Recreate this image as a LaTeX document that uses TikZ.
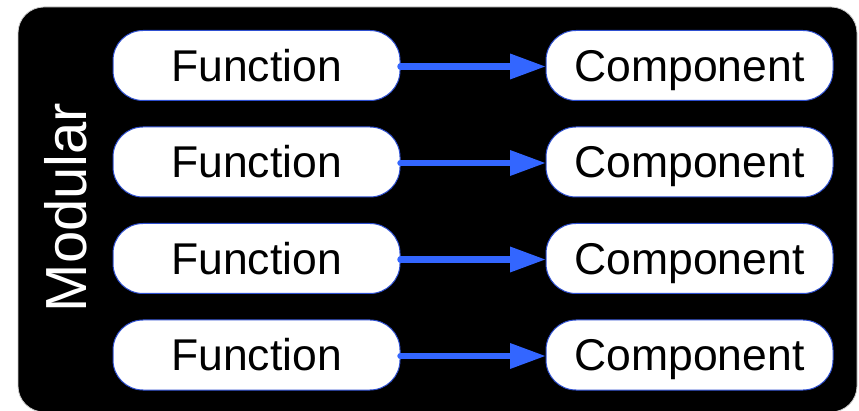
\documentclass[tikz,border=0pt]{standalone}
\usepackage{fontspec}
\setmainfont{Liberation Sans}
\usetikzlibrary{arrows.meta}
\definecolor{arrowblue}{HTML}{3366FF}
\definecolor{edgeblue}{HTML}{2E4FD0}
\tikzset{
  fbox/.style={draw=edgeblue, line width=1pt, fill=white, rounded corners=30pt,
    minimum width=287pt, minimum height=70pt, inner sep=0pt,
    text height=31.9pt, text depth=0pt,
    font=\fontsize{44.5}{50}\selectfont},
  flow/.style={draw=arrowblue, line width=6.5pt, line cap=round,
    -{Triangle[length=36pt,width=24pt]}, shorten >=-0.5pt}
}
\begin{document}
\begin{tikzpicture}[x=1pt,y=-1pt]
\useasboundingbox (0,0) rectangle (859,411);
\fill[black, draw=gray!40, line width=0.8pt, rounded corners=26pt] (18,7) rectangle (857,412);
\node[white, rotate=90, inner sep=0pt, text height=41.5pt, text depth=0pt,
  font=\fontsize{58}{60}\selectfont] (mod) at (65.5,207.5) {Modular};
\foreach \i/\y in {1/65.5,2/162,3/258.5,4/355}{
  \node[fbox] (f\i) at (256.5,\y) {Function};
  \node[fbox] (c\i) at (689.5,\y) {Component};
  \draw[flow] (f\i.east) ++(0,1) -- (c\i.west |- 0,\y+1);
}
\end{tikzpicture}
\end{document}
